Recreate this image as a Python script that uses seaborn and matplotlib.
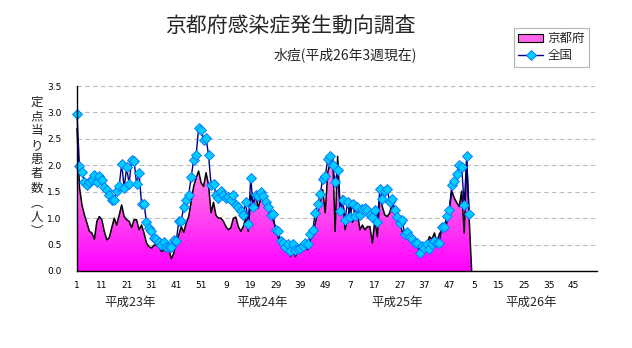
import numpy as np
import pandas as pd
import matplotlib
matplotlib.use("Agg")
import matplotlib.pyplot as plt
import seaborn as sns
from matplotlib.patches import Patch
from matplotlib.lines import Line2D
from matplotlib.colors import LinearSegmentedColormap

# 定点当り患者数（水痘）: 平成23年第1週から平成26年第3週まで
kyoto = [
    2.70, 1.58, 1.25, 1.06, 0.91, 0.75, 0.72, 0.60, 0.94, 1.03,
    0.97, 0.75, 0.59, 0.63, 0.82, 1.00, 0.87, 1.06, 1.25, 1.03,
    0.97, 0.94, 0.82, 0.97, 0.97, 0.78, 0.87, 0.72, 0.53, 0.46,
    0.43, 0.49, 0.49, 0.46, 0.37, 0.40, 0.37, 0.42, 0.23, 0.34,
    0.56, 0.68, 0.84, 0.73, 0.91, 1.03, 1.32, 1.60, 1.76, 1.89,
    1.67, 1.60, 1.86, 1.63, 1.10, 1.30, 1.05, 1.00, 1.00, 0.94,
    0.84, 0.78, 0.82, 1.00, 1.02, 0.84, 0.75, 0.84, 1.00, 0.75,
    1.44, 1.29, 1.44, 1.19, 1.38, 1.35, 1.25, 1.16, 1.03, 0.97,
    0.81, 0.65, 0.49, 0.49, 0.40, 0.42, 0.27, 0.40, 0.27, 0.40,
    0.37, 0.40, 0.46, 0.40, 0.59, 0.65, 0.91, 1.10, 1.29, 1.54,
    1.10, 1.86, 2.05, 2.20, 0.75, 2.17, 1.25, 1.42, 0.78, 1.00,
    1.22, 0.92, 1.13, 1.10, 0.78, 0.87, 0.78, 0.84, 0.84, 0.53,
    0.97, 0.65, 1.44, 1.22, 1.06, 1.03, 1.10, 1.29, 1.10, 0.97,
    0.90, 0.75, 0.68, 0.65, 0.68, 0.65, 0.63, 0.53, 0.50, 0.43,
    0.43, 0.50, 0.65, 0.60, 0.72, 0.55, 0.70, 0.78, 0.84, 0.91,
    1.16, 1.51, 1.38, 1.29, 1.22, 1.51, 0.72, 2.08, 1.00,
]

national = [
    2.97, 1.98, 1.87, 1.69, 1.63, 1.69, 1.73, 1.81, 1.69, 1.79,
    1.72, 1.59, 1.54, 1.44, 1.34, 1.34, 1.52, 1.61, 2.03, 1.57,
    1.96, 1.65, 2.10, 2.08, 1.65, 1.86, 1.27, 1.27, 0.93, 0.82,
    0.75, 0.62, 0.61, 0.55, 0.49, 0.55, 0.46, 0.45, 0.46, 0.59,
    0.57, 0.94, 0.94, 1.22, 1.34, 1.44, 1.78, 2.10, 2.19, 2.71,
    2.67, 2.48, 2.52, 2.19, 1.63, 1.65, 1.44, 1.38, 1.51, 1.44,
    1.38, 1.40, 1.34, 1.44, 1.24, 1.21, 1.13, 1.06, 1.30, 0.89,
    1.76, 1.21, 1.44, 1.42, 1.49, 1.42, 1.30, 1.21, 1.06, 1.08,
    0.77, 0.75, 0.57, 0.53, 0.45, 0.51, 0.37, 0.51, 0.40, 0.42,
    0.43, 0.47, 0.53, 0.51, 0.70, 0.78, 1.10, 1.27, 1.46, 1.74,
    1.79, 2.11, 2.17, 2.00, 1.68, 1.92, 1.13, 1.34, 0.97, 1.30,
    1.03, 1.27, 1.05, 1.21, 1.06, 1.17, 1.19, 1.16, 1.06, 1.02,
    1.16, 0.92, 1.55, 1.37, 1.51, 1.55, 1.30, 1.36, 1.16, 1.02,
    0.91, 0.97, 0.70, 0.73, 0.65, 0.61, 0.53, 0.53, 0.35, 0.48,
    0.43, 0.51, 0.42, 0.51, 0.56, 0.53, 0.53, 0.84, 0.84, 1.05,
    1.16, 1.63, 1.70, 1.84, 2.00, 1.96, 1.24, 2.17, 1.08,
]

years = ["平成23年", "平成24年", "平成25年", "平成26年"]
weeks_per_year = 52
week_tick_labels = ["1", "11", "21", "31", "41", "51", "9", "19", "29", "39", "49",
                    "7", "17", "27", "37", "47", "5", "15", "25", "35", "45"]
y_ticks = [0.0, 0.5, 1.0, 1.5, 2.0, 2.5, 3.0, 3.5]
series_names = ["京都府", "全国"]

df = pd.DataFrame({
    "week": np.arange(len(national)),
    "京都府": kyoto,
    "全国": national,
})

sns.set_style("white")
plt.rcParams["font.family"] = ["Noto Sans CJK JP", "DejaVu Sans"]

W, H = 632, 348
fig = plt.figure(figsize=(W / 100, H / 100), dpi=100)
ax = fig.add_axes([77 / W, 1 - 271 / H, 520 / W, 185 / H])

# area for Kyoto with a vertical pink-to-magenta gradient
xk = np.append(df["week"].to_numpy(), df["week"].iloc[-1] + 1)
yk = np.append(df["京都府"].to_numpy(), 0.0)
poly = ax.fill_between(xk, 0, yk, facecolor="none", edgecolor="none", zorder=2)
cmap = LinearSegmentedColormap.from_list("pinkgrad", ["#FF00FF", "#FF5CEC", "#FFAAEE"])
grad = np.linspace(0, 1, 256).reshape(-1, 1)
im = ax.imshow(grad, cmap=cmap, origin="lower", aspect="auto",
               extent=[0, xk[-1], 0, max(kyoto)], zorder=2, interpolation="bilinear")
im.set_clip_path(poly.get_paths()[0], transform=ax.transData)

outline = pd.DataFrame({"week": xk, "value": yk})
sns.lineplot(data=outline, x="week", y="value", ax=ax, color="black", lw=1.1,
             sort=False, estimator=None, zorder=3, legend=False, clip_on=False)

sns.lineplot(data=df, x="week", y="全国", ax=ax, color="#000080", lw=1.0,
             marker="D", markersize=4.6, markerfacecolor="#00CCFF",
             markeredgecolor="#0070FF", markeredgewidth=0.6,
             sort=False, estimator=None, zorder=4, legend=False, clip_on=False)

total_weeks = weeks_per_year * len(years)
ax.set_xlim(0, 209.5)
ax.set_ylim(0, 3.5)

ax.set_yticks(y_ticks)
ax.set_yticklabels([f"{v:.1f}" for v in y_ticks], fontsize=6.5, family="DejaVu Sans")
ax.set_xticks(np.arange(0, total_weeks - 5, 10))
ax.set_xticklabels(week_tick_labels, fontsize=6.5, family="DejaVu Sans")
ax.set_xticks(np.arange(5, total_weeks, 10), minor=True)
ax.tick_params(axis="x", which="both", direction="in", length=3, width=0.8,
               pad=7, colors="black")
ax.tick_params(axis="y", direction="out", length=3, width=0.8, pad=8, colors="black")
ax.set_xlabel("")
ax.set_ylabel("")

ax.yaxis.grid(True, color="#BDBDBD", linestyle=(0, (4, 3)), lw=0.8)
ax.xaxis.grid(False)
ax.set_axisbelow(True)
for s in ["top", "right"]:
    ax.spines[s].set_visible(False)
for s in ["left", "bottom"]:
    ax.spines[s].set_color("black")
    ax.spines[s].set_linewidth(1.0)
    ax.spines[s].set_zorder(5)

# year captions under the week numbers
year_label_x = [21.5, 74.5, 129, 183]
for x, label in zip(year_label_x, years):
    ax.text(x, -0.17, label, transform=ax.get_xaxis_transform(),
            ha="center", va="center", fontsize=9)

# vertical y-axis caption, one character per line
ylabel_chars = list("定点当り患者数") + ["︵", "人", "︶"]
for k, ch in enumerate(ylabel_chars):
    fig.text(37 / W, 1 - (102 + 14.4 * k) / H, ch, ha="center", va="center", fontsize=9)

fig.text(290 / W, 1 - 26 / H, "京都府感染症発生動向調査", ha="center", va="center", fontsize=15)
fig.text(345 / W, 1 - 55 / H, "水痘(平成26年3週現在)", ha="center", va="center", fontsize=10)

handles = [
    Patch(facecolor="#FF66EA", edgecolor="black", lw=0.8),
    Line2D([0], [0], color="#000080", lw=1.0, marker="D", markersize=4.6,
           markerfacecolor="#00CCFF", markeredgecolor="#0070FF", markeredgewidth=0.6),
]
leg = fig.legend(handles, series_names, loc="upper left",
                 bbox_to_anchor=(514 / W, 1 - 28 / H), frameon=True, fancybox=False,
                 edgecolor="#A0A0A0", fontsize=9, handlelength=2.0, handleheight=0.6,
                 borderpad=0.35, labelspacing=0.3, handletextpad=0.3, borderaxespad=0)
leg.get_frame().set_linewidth(0.8)

fig.savefig("out.png", dpi=100)
